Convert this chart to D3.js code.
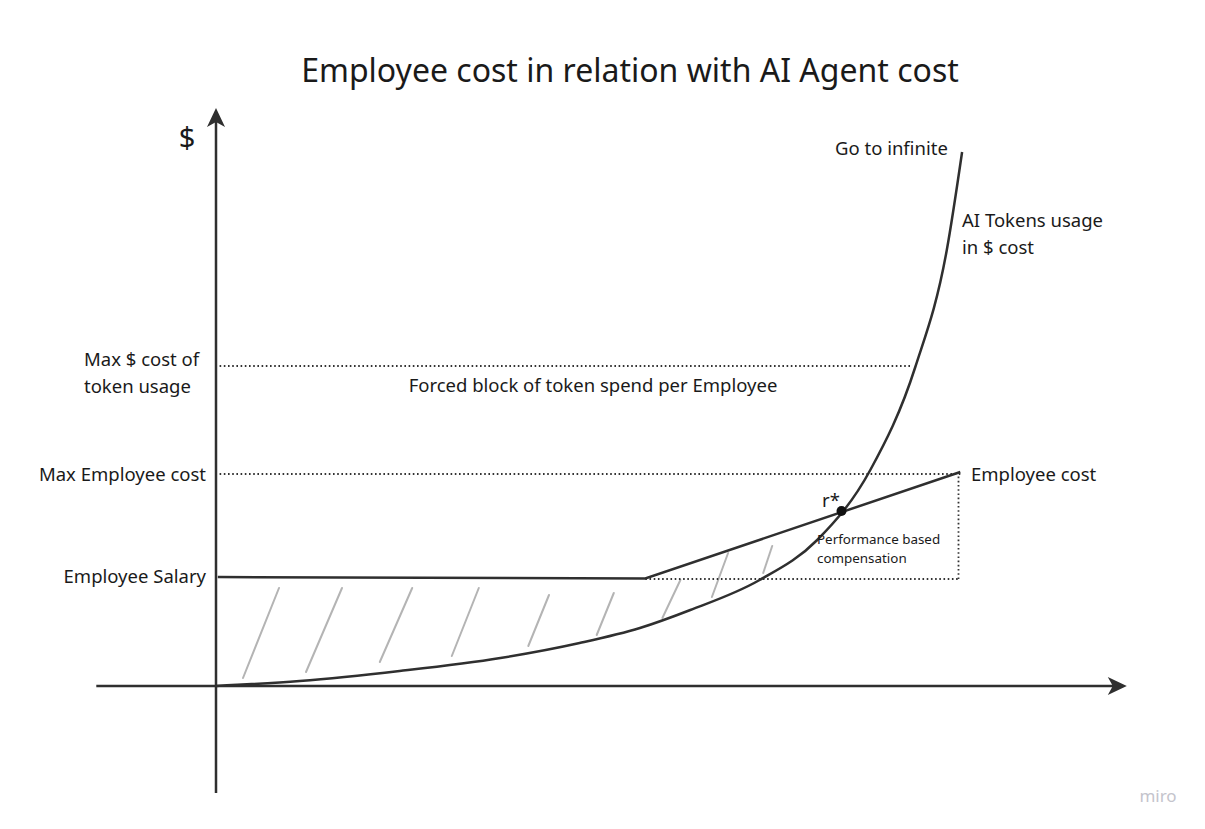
<!DOCTYPE html>
<html><head><meta charset="utf-8">
<script src="https://cdn.jsdelivr.net/npm/d3@7"></script>
<style>body{margin:0;background:#fff;}svg{display:block;font-family:"Noto Sans","Open Sans",sans-serif;}</style>
</head><body>
<svg id="c" width="1205" height="829"></svg>
<script>
// ---- data (abstract units) ----
const title = "Employee cost in relation with AI Agent cost";
const xAxisExtent = [-13.3, 101.2];
const yAxisExtent = [-21.4, 115.6];
// AI token cost curve
const tokenX = [0, 9.3, 20.4, 31.6, 40.4, 47.1, 52.7, 60.4, 66.8, 72.7, 77.7, 81.2, 82.9];
const tokenY = [0, 1.0, 3.0, 5.6, 8.6, 11.6, 15.2, 21.2, 29.2, 43.2, 63.8, 87.2, 106.8];
// employee cost (salary then performance-based)
const empX = [0.2, 47.7, 82.7];
const empY = [21.8, 21.5, 42.8];
const levelNames = ["Employee Salary", "Max Employee cost", "Max $ cost of token usage"];
const levelValues = [21.8, 42.4, 64];
const maxTokenDotEnd = 77.4;
const maxEmpDotEnd = 82.7;
const perfBoxX = [47.7, 82.5];
const perfBoxY = [21.4, 42.4];
const rStar = [69.5, 35.0];
// hatch strokes: [x1,y1,x2,y2]
const hatch = [
  [7.0, 19.6, 3.0, 1.6],
  [14.0, 19.6, 10.0, 2.8],
  [21.8, 19.6, 18.2, 4.8],
  [29.2, 19.6, 26.2, 6.0],
  [37.0, 18.2, 34.7, 8.0],
  [44.2, 18.6, 42.3, 10.2],
  [51.6, 21.2, 49.6, 13.6],
  [56.9, 26.6, 55.1, 17.8],
  [61.8, 28.0, 60.8, 22.6]
];

const svg = d3.select("#c");
const x = d3.scaleLinear().domain([0, 100]).range([216, 1116]);
const y = d3.scaleLinear().domain([0, 110]).range([686, 136]);
const ink = "#2f2f2f";

svg.append("text").attr("x", 630).attr("y", 82).attr("text-anchor", "middle")
  .attr("font-size", 32).attr("fill", "#1a1a1a").text(title);

// hatch
svg.append("g").selectAll("line").data(hatch).join("line")
  .attr("x1", d => x(d[0])).attr("y1", d => y(d[1]))
  .attr("x2", d => x(d[2])).attr("y2", d => y(d[3]))
  .attr("stroke", "#b4b4b4").attr("stroke-width", 2).attr("stroke-linecap", "round");

// dotted lines
const dot = (x1, y1, x2, y2) => svg.append("line")
  .attr("x1", x1).attr("y1", y1).attr("x2", x2).attr("y2", y2)
  .attr("stroke", "#333").attr("stroke-width", 1.8).attr("stroke-dasharray", "1.6 2.6");
dot(x(0.4), y(levelValues[2]), x(maxTokenDotEnd), y(levelValues[2]));
dot(x(0.4), y(levelValues[1]), x(maxEmpDotEnd), y(levelValues[1]));
dot(x(perfBoxX[0]), y(perfBoxY[0]), x(perfBoxX[1]), y(perfBoxY[0]));
dot(x(perfBoxX[1]), y(perfBoxY[0]), x(perfBoxX[1]), y(perfBoxY[1]));

// axes
svg.append("line").attr("x1", x(xAxisExtent[0])).attr("y1", y(0)).attr("x2", x(xAxisExtent[1]) - 10).attr("y2", y(0))
  .attr("stroke", ink).attr("stroke-width", 2.5);
svg.append("line").attr("x1", x(0)).attr("y1", y(yAxisExtent[0])).attr("x2", x(0)).attr("y2", y(yAxisExtent[1]) + 10)
  .attr("stroke", ink).attr("stroke-width", 2.5);
const xt = x(xAxisExtent[1]), yt = y(yAxisExtent[1]);
svg.append("path").attr("d", `M${xt},${y(0)} L${xt-19},${y(0)-9} L${xt-14},${y(0)} L${xt-19},${y(0)+9} Z`).attr("fill", ink);
svg.append("path").attr("d", `M${x(0)},${yt} L${x(0)-9},${yt+19} L${x(0)},${yt+14} L${x(0)+9},${yt+19} Z`).attr("fill", ink);

// token curve
const tokenPts = tokenX.map((v, i) => [v, tokenY[i]]);
svg.append("path").datum(tokenPts)
  .attr("d", d3.line().x(d => x(d[0])).y(d => y(d[1])).curve(d3.curveMonotoneX))
  .attr("fill", "none").attr("stroke", ink).attr("stroke-width", 2.5);

// employee cost
const empPts = empX.map((v, i) => [v, empY[i]]);
svg.append("path").datum(empPts)
  .attr("d", d3.line().x(d => x(d[0])).y(d => y(d[1])))
  .attr("fill", "none").attr("stroke", ink).attr("stroke-width", 2.5);

// r* point
svg.append("circle").attr("cx", x(rStar[0])).attr("cy", y(rStar[1])).attr("r", 5).attr("fill", "#111");

// texts
const txt = (t, tx, ty, size, anchor, fill) => svg.append("text").attr("x", tx).attr("y", ty)
  .attr("font-size", size).attr("text-anchor", anchor || "start").attr("fill", fill || "#1a1a1a").text(t);
const fs = 18.5;
txt("$", 187, 148, 29, "middle");
txt("Max $ cost of", 84, 366, fs);
txt("token usage", 84, 393, fs);
txt(levelNames[1], 206, 481, fs, "end");
txt(levelNames[0], 206, 583, fs, "end");
txt("Forced block of token spend per Employee", 593, 392, fs, "middle");
txt("Employee cost", 971, 481, fs);
txt("r*", 822, 507, fs);
txt("Performance based", 817, 544, 13.4);
txt("compensation", 817, 563, 13.4);
txt("Go to infinite", 835, 155, fs);
txt("AI Tokens usage", 962, 227, fs);
txt("in $ cost", 962, 254, fs);
txt("miro", 1158, 802, 17, "middle", "#c4c4cc");
</script>
</body></html>
